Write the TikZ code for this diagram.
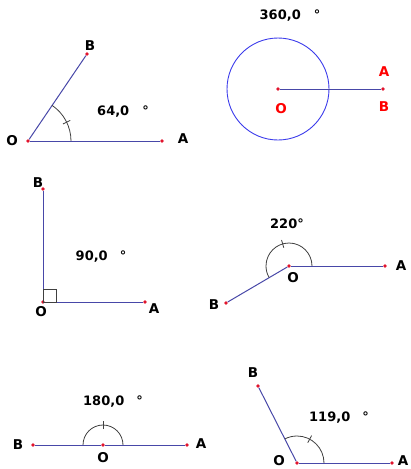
\documentclass[tikz,border=0pt]{standalone}
\usepackage{fontspec}
\setmainfont{DejaVu Sans}
\usetikzlibrary{positioning, calc}
\definecolor{rayblue}{RGB}{72,72,168}
\definecolor{ringblue}{RGB}{60,60,235}
\definecolor{ptred}{RGB}{225,20,45}

\begin{document}
\begin{tikzpicture}[x=1pt, y=-1pt,
  pt/.style={circle, fill=ptred, inner sep=0pt, minimum size=3.6pt},
  lbl/.style={font=\bfseries\fontsize{13.5}{15}\selectfont, inner sep=0pt},
  val/.style={font=\bfseries\fontsize{13}{14}\selectfont, inner sep=0pt},
  ray/.style={draw=rayblue, line width=1pt},
  angarc/.style={draw=black!75, line width=0.8pt}]
\useasboundingbox (0,0) rectangle (411,469);
% 64 degrees
\node[pt] (O1) at (28,141) {};
\node[pt] (A1) at (162,141) {};
\node[pt] (B1) at (87,54) {};
\node[lbl] (lO1) at (12,141) {O};
\node[lbl] (lA1) at (183,139) {A};
\node[lbl] (lB1) at (90,46) {B};
\node[val] (t1) at (123,112) {64,0\hspace{13pt}°};
\draw[ray] (O1) -- (A1);
\draw[ray] (O1) -- (B1);
\draw[angarc] ($(O1)+(43,0)$) arc[start angle=0, end angle=-56, radius=43];
\draw[angarc] ($(O1)+(-26:39)$) -- ($(O1)+(-26:47)$);
% 360 degrees
\node[pt] (O2) at (278,89) {};
\node[pt] (A2) at (383,89) {};
\node[lbl, text=red] (lA2) at (384,72) {A};
\node[lbl, text=red] (lB2) at (384,107) {B};
\node[lbl, text=red] (lO2) at (281,109) {O};
\node[val] (t2) at (290,16) {360,0\hspace{13pt}°};
\draw[ringblue, line width=0.9pt] (O2) circle[radius=51];
\draw[ray] (O2) -- (A2);
% 90 degrees
\node[pt] (O3) at (43,302) {};
\node[pt] (A3) at (145,302) {};
\node[pt] (B3) at (43,189) {};
\node[lbl] (lO3) at (41,312) {O};
\node[lbl] (lA3) at (154,309) {A};
\node[lbl] (lB3) at (38,183) {B};
\node[val] (t3) at (101,257) {90,0\hspace{12pt}°};
\draw[ray] (O3) -- (A3);
\draw[ray] (O3) -- (B3);
\draw[angarc] (O3.center) rectangle ++(13,-13);
% 220 degrees
\node[pt] (O4) at (289,266) {};
\node[pt] (A4) at (385,266) {};
\node[pt] (B4) at (226,303) {};
\node[lbl] (lO4) at (293,278) {O};
\node[lbl] (lA4) at (401,266) {A};
\node[lbl] (lB4) at (214,305) {B};
\node[val] (t4) at (287,224) {220°};
\draw[ray] (O4) -- (A4);
\draw[ray] (O4) -- (B4);
\draw[angarc] ($(O4)+(23,0)$) arc[start angle=0, end angle=-210, radius=23];
\draw[angarc] ($(O4)+(-106:19)$) -- ($(O4)+(-106:27)$);
% 180 degrees
\node[pt] (O5) at (103,445) {};
\node[pt] (A5) at (187,445) {};
\node[pt] (B5) at (33,445) {};
\node[lbl] (lO5) at (103,458) {O};
\node[lbl] (lA5) at (201,444) {A};
\node[lbl] (lB5) at (18,445) {B};
\node[val] (t5) at (113,402) {180,0\hspace{12pt}°};
\draw[ray] (B5) -- (O5);
\draw[ray] (O5) -- (A5);
\draw[angarc] ($(O5)+(20,0)$) arc[start angle=0, end angle=-180, radius=20];
\draw[angarc] ($(O5)+(-90:16)$) -- ($(O5)+(-90:24)$);
% 119 degrees
\node[pt] (O6) at (297,463) {};
\node[pt] (A6) at (392,463) {};
\node[pt] (B6) at (258,386) {};
\node[lbl] (lO6) at (279,461) {O};
\node[lbl] (lA6) at (403,461) {A};
\node[lbl] (lB6) at (253,373) {B};
\node[val] (t6) at (339,418) {119,0\hspace{12pt}°};
\draw[ray] (O6) -- (A6);
\draw[ray] (O6) -- (B6);
\draw[angarc] ($(O6)+(27,0)$) arc[start angle=0, end angle=-117, radius=27];
\draw[angarc] ($(O6)+(-62:23)$) -- ($(O6)+(-62:31)$);
\end{tikzpicture}
\end{document}
